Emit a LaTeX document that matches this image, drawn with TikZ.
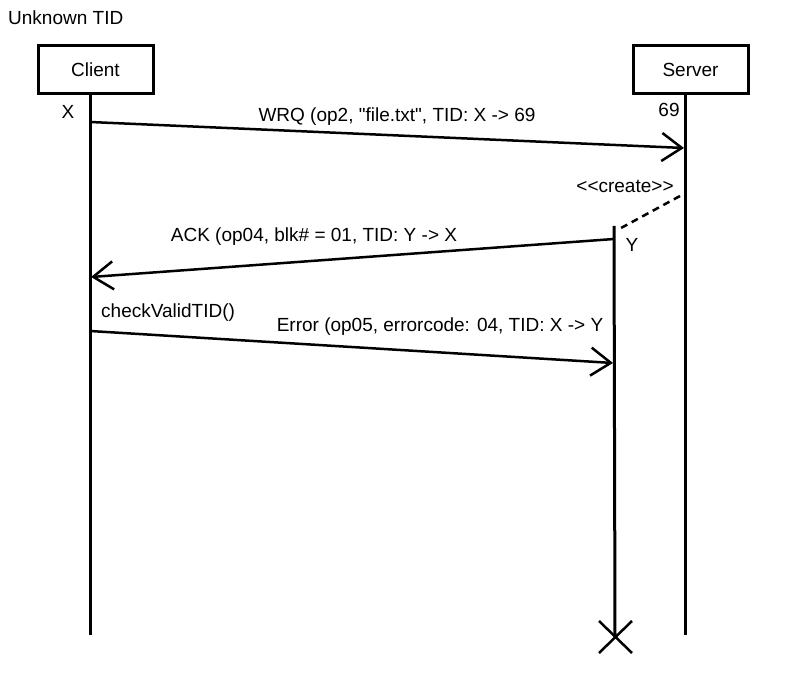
\documentclass[tikz,border=0pt]{standalone}
\usepackage{fontspec}
\setmainfont{Liberation Sans}[Ligatures=TeXOff]
\usetikzlibrary{arrows.meta}
\begin{document}
\begin{tikzpicture}[x=1pt,y=-1pt,
  every node/.style={font=\fontsize{19}{22}\selectfont, inner sep=0pt},
  actor/.style={draw, line width=3pt, minimum width=115pt, minimum height=48pt},
  life/.style={line width=3pt},
  msg/.style={line width=2.5pt, -{Straight Barb[length=20pt,width=28pt,line width=2.5pt]}},
  lbl/.style={anchor=center}]
\useasboundingbox (0,0) rectangle (800,692);
\node[anchor=west] (title) at (8,18) {Unknown TID};
\node[actor] (client) at (95.5,70) {Client};
\node[actor] (server) at (690.5,70) {Server};
\coordinate (cbot) at (90,635);
\coordinate (sbot) at (685,635);
\draw[life] (90,94) -- (cbot);
\draw[life] (685,94) -- (sbot);
\node (xl) at (68,112) {X};
\node (sl) at (669,110) {69};
% Y lifeline
\coordinate (ytop) at (614,226);
\coordinate (yend) at (615,637);
\draw[life] (ytop) -- (yend);
\draw[line width=2.5pt] (599,621) -- (632,653) (632,621) -- (599,653);
\node (yl) at (632,245) {Y};
% messages
\coordinate (m1s) at (90,122);
\coordinate (m1e) at (684,148);
\draw[msg] (m1s) -- (m1e);
\node (m1l) at (397,117) {WRQ (op2, "file.txt", TID: X -> 69};
\node (cr) at (625,186) {<<create>>};
\coordinate (c1) at (680,196);
\coordinate (c2) at (621,228);
\draw[line width=2.5pt, dash pattern=on 7pt off 5pt] (c1) -- (c2);
\coordinate (m2s) at (614,239);
\coordinate (m2e) at (91,277);
\draw[msg] (m2s) -- (m2e);
\node (m2l) at (314,237) {ACK (op04, blk\# = 01, TID: Y -> X};
\node[anchor=west] (chk) at (101,313) {checkValidTID()};
\coordinate (m3s) at (90,331);
\coordinate (m3e) at (613,363);
\draw[msg] (m3s) -- (m3e);
\node (m3l) at (440,327) {Error (op05, errorcode: 04, TID: X -> Y};
\end{tikzpicture}
\end{document}
